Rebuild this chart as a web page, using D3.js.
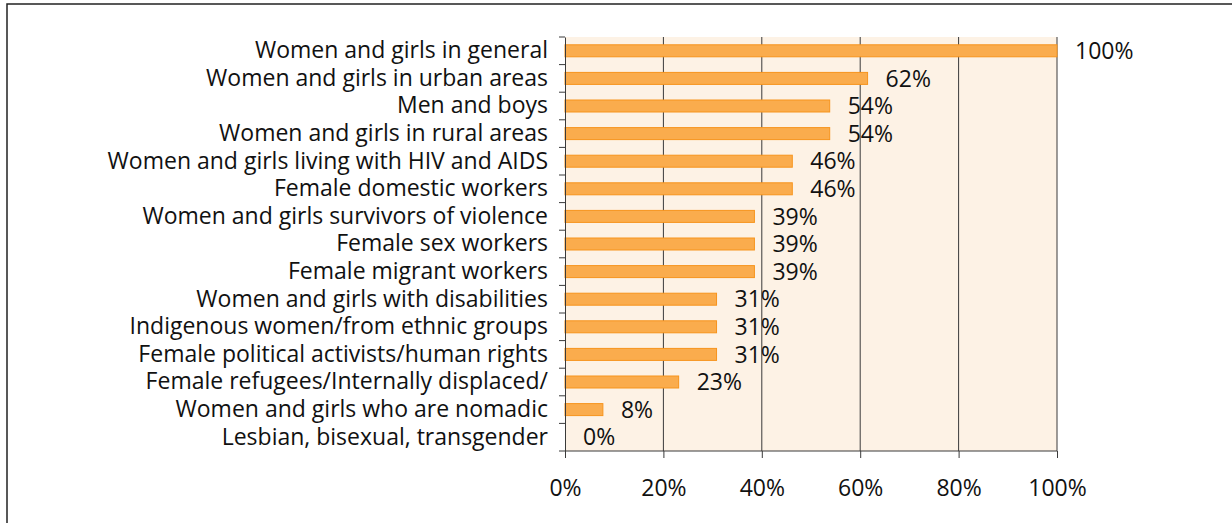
<!DOCTYPE html>
<html>
<head>
<meta charset="utf-8">
<script src="https://cdn.jsdelivr.net/npm/d3@7"></script>
<style>
  html, body { margin: 0; padding: 0; background: #fff; }
  svg { display: block; }
</style>
</head>
<body>
<script>
//category names, top to bottom
const categories = [
  "Women and girls in general",
  "Women and girls in urban areas",
  "Men and boys",
  "Women and girls in rural areas",
  "Women and girls living with HIV and AIDS",
  "Female domestic workers",
  "Women and girls survivors of violence",
  "Female sex workers",
  "Female migrant workers",
  "Women and girls with disabilities",
  "Indigenous women/from ethnic groups",
  "Female political activists/human rights",
  "Female refugees/Internally displaced/",
  "Women and girls who are nomadic",
  "Lesbian, bisexual, transgender"
];

//share of respondents (%)
const values = [100, 61.5, 53.8, 53.8, 46.2, 46.2, 38.5, 38.5, 38.5, 30.8, 30.8, 30.8, 23.1, 7.7, 0];

//data labels as shown on the chart
const valueLabels = ["100%", "62%", "54%", "54%", "46%", "46%", "39%", "39%", "39%", "31%", "31%", "31%", "23%", "8%", "0%"];

//x axis ticks
const xTicks = [0, 20, 40, 60, 80, 100];

const data = categories.map((c, i) => ({ name: c, value: values[i], label: valueLabels[i] }));

const font = "'Open Sans', 'Noto Sans', sans-serif";
const fontSize = 23;

const width = 1232;
const height = 523;
const margin = { top: 37, right: 175, bottom: 72, left: 565 };
const innerWidth = width - margin.left - margin.right;
const innerHeight = height - margin.top - margin.bottom;

const svg = d3.select("body")
  .append("svg")
  .attr("width", width)
  .attr("height", height)
  .style("font-family", font);

//outer frame, open on the right and bottom like the source
svg.append("path")
  .attr("d", `M7,${height} L7,4 L${width},4`)
  .attr("fill", "none")
  .attr("stroke", "#222")
  .attr("stroke-width", 1.5);

const g = svg.append("g")
  .attr("transform", `translate(${margin.left},${margin.top})`);

//scales
const xScale = d3.scaleLinear()
  .domain([0, 100])
  .range([0, innerWidth]);

const yScale = d3.scaleBand()
  .domain(categories)
  .range([0, innerHeight]);

//plot background
g.append("rect")
  .attr("width", innerWidth)
  .attr("height", innerHeight)
  .attr("fill", "#fdf2e5");

//vertical gridlines
g.selectAll(".grid")
  .data(xTicks.slice(1))
  .enter()
  .append("line")
  .attr("class", "grid")
  .attr("x1", d => xScale(d))
  .attr("x2", d => xScale(d))
  .attr("y1", 0)
  .attr("y2", innerHeight)
  .attr("stroke", "#3a3a3a")
  .attr("stroke-width", 1);

//bars
const barH = 12;
g.selectAll(".bar")
  .data(data)
  .enter()
  .append("rect")
  .attr("class", "bar")
  .attr("x", xScale(0))
  .attr("y", d => yScale(d.name) + yScale.bandwidth() / 2 - barH / 2)
  .attr("width", d => xScale(d.value))
  .attr("height", barH)
  .attr("fill", "#faac4d")
  .attr("stroke", "#f7941d")
  .attr("stroke-width", 1)
  .style("display", d => d.value > 0 ? null : "none");

//data labels
g.selectAll(".value-label")
  .data(data)
  .enter()
  .append("text")
  .attr("class", "value-label")
  .attr("x", d => xScale(d.value) + 18)
  .attr("y", d => yScale(d.name) + yScale.bandwidth() / 2)
  .attr("dy", "0.36em")
  .attr("font-size", fontSize)
  .attr("fill", "#111")
  .text(d => d.label);

//y axis with ticks between categories
const yaxis = d3.axisLeft(yScale).tickSize(0).tickPadding(17);
const yaxisgroup = g.append("g").call(yaxis);
yaxisgroup.attr("font-family", font);
yaxisgroup.select(".domain").attr("stroke", "#3a3a3a");
yaxisgroup.selectAll("text")
  .attr("font-size", fontSize)
  .attr("fill", "#111");

g.selectAll(".ytick")
  .data(d3.range(categories.length + 1))
  .enter()
  .append("line")
  .attr("class", "ytick")
  .attr("x1", -6)
  .attr("x2", 0)
  .attr("y1", i => i * yScale.step())
  .attr("y2", i => i * yScale.step())
  .attr("stroke", "#3a3a3a");

//x axis
const xaxis = d3.axisBottom(xScale)
  .tickValues(xTicks)
  .tickFormat(d => d + "%")
  .tickSize(7)
  .tickPadding(22);
const xaxisgroup = g.append("g")
  .attr("transform", `translate(0,${innerHeight})`)
  .call(xaxis);
xaxisgroup.attr("font-family", font);
xaxisgroup.select(".domain").attr("stroke", "#3a3a3a").attr("d", `M0,0H${innerWidth}`);
xaxisgroup.selectAll("line").attr("stroke", "#3a3a3a");
xaxisgroup.selectAll("text")
  .attr("font-size", fontSize)
  .attr("fill", "#111");
</script>
</body>
</html>
